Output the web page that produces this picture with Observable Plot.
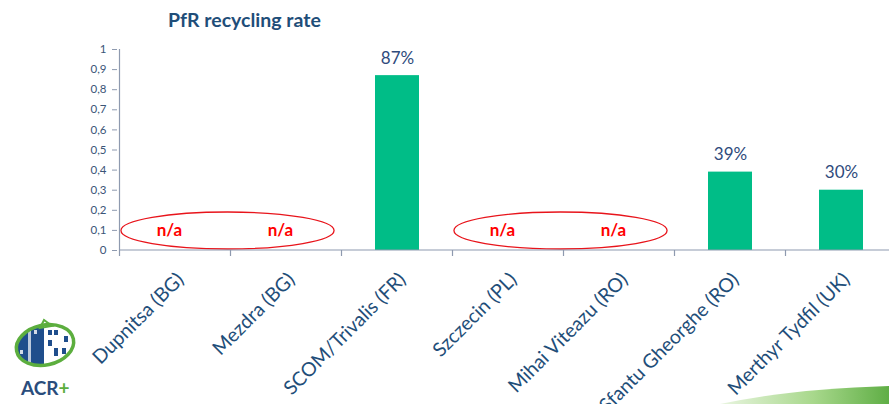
<!DOCTYPE html>
<html><head><meta charset="utf-8">
<script src="https://cdn.jsdelivr.net/npm/d3@7"></script>
<script src="https://cdn.jsdelivr.net/npm/@observablehq/plot@0.6"></script>
<style>
body{margin:0;background:#fff;font-family:Lato, "Open Sans", sans-serif;}
#wrap{position:relative;width:889px;height:404px;overflow:hidden;background:#fff;}
#title{height:36px;}
#title span{position:absolute;left:168px;top:9px;font-size:19.5px;font-weight:bold;color:#1f4e79;line-height:22px;}
#chart svg{overflow:visible;}
.deco{position:absolute;pointer-events:none;}
</style></head><body>
<div id="wrap">
  <div id="title"><span>PfR recycling rate</span></div>
  <div id="chart"></div>
  <svg class="deco" style="left:0;top:300px" width="95" height="104">
    <defs>
      <clipPath id="lc"><ellipse cx="45" cy="45" rx="28" ry="19" transform="rotate(-12 45 45)"/></clipPath>
    </defs>
    <g clip-path="url(#lc)">
      <rect x="10" y="15" width="70" height="60" fill="#fff"/>
      <rect x="14" y="20" width="30" height="56" fill="#1f4e8c"/>
      <rect x="28" y="24" width="3" height="40" fill="#fff" opacity="0.7"/>
      <rect x="20" y="50" width="3" height="4" fill="#fff" opacity="0.8"/>
      <rect x="34" y="30" width="3" height="4" fill="#fff" opacity="0.8"/>
      <rect x="48" y="30" width="4" height="5" fill="#1f4e8c"/>
      <rect x="54" y="30" width="4" height="5" fill="#1f4e8c"/>
      <rect x="64" y="36" width="4" height="6" fill="#1f4e8c"/>
      <rect x="48" y="40" width="4" height="6" fill="#1f4e8c"/>
      <rect x="54" y="48" width="4" height="8" fill="#1f4e8c"/>
      <rect x="62" y="48" width="4" height="6" fill="#1f4e8c"/>
    </g>
    <ellipse cx="45" cy="45" rx="29" ry="20" transform="rotate(-12 45 45)" fill="none" stroke="#5cae3e" stroke-width="3.5"/>
    <path d="M40 28 L44 20 L52 26 Z" fill="none" stroke="#5cae3e" stroke-width="2"/>
    <text x="21" y="95" font-family="Lato" font-weight="bold" font-size="19" fill="#2a4d7c">ACR<tspan fill="#5cae3e">+</tspan></text>
  </svg>
  <svg class="deco" style="left:700px;top:370px" width="189" height="34">
    <defs>
      <linearGradient id="sw" x1="0" x2="1" y1="0" y2="0">
        <stop offset="0" stop-color="#e9f5e0"/>
        <stop offset="0.55" stop-color="#a8d88c"/>
        <stop offset="1" stop-color="#5fae45"/>
      </linearGradient>
    </defs>
    <path d="M20 34 Q90 19 189 16 L189 34 Z" fill="url(#sw)"/>
  </svg>
</div>
<script>
const categories = ["Dupnitsa (BG)", "Mezdra (BG)", "SCOM/Trivalis (FR)", "Szczecin (PL)", "Mihai Viteazu (RO)", "Sfantu Gheorghe (RO)", "Merthyr Tydfil (UK)"];
const rates = [null, null, 0.87, null, null, 0.39, 0.30];
const yTicks = [0, 0.1, 0.2, 0.3, 0.4, 0.5, 0.6, 0.7, 0.8, 0.9, 1];
const naLabel = "n/a";
const naGroups = [["Dupnitsa (BG)", "Mezdra (BG)"], ["Szczecin (PL)", "Mihai Viteazu (RO)"]];

const rows = categories.map((c, i) => ({cat: c, value: rates[i]}));
const present = rows.filter(d => d.value != null);
const missing = rows.filter(d => d.value == null);

const axisColor = "#8e9aaf";

function bandInfo(x) {
  const bw = x.bandwidth ? x.bandwidth() : 0;
  const step = x.step ? x.step() : (x(categories[1]) - x(categories[0]));
  return {bw, step};
}

// axis lines + boundary ticks
function frameMark(index, scales, values, dims) {
  const x = scales.x, y = scales.y;
  const {bw, step} = bandInfo(x);
  const g = d3.create("svg:g").attr("stroke", axisColor).attr("stroke-width", 1.2);
  const y0 = y(0);
  const left = x(categories[0]) + bw / 2 - step / 2;
  g.append("line").attr("x1", left).attr("x2", dims.width + 20).attr("y1", y0).attr("y2", y0);
  g.append("line").attr("x1", left).attr("x2", left).attr("y1", y(1)).attr("y2", y0);
  categories.forEach(c => {
    const bx = x(c) + bw / 2 - step / 2;
    g.append("line").attr("x1", bx).attr("x2", bx).attr("y1", y0).attr("y2", y0 + 6);
  });
  return g.node();
}

function ellipseMark(index, scales) {
  const x = scales.x, y = scales.y;
  const {bw, step} = bandInfo(x);
  const g = d3.create("svg:g").attr("fill", "none").attr("stroke", "#e8141b").attr("stroke-width", 1.3);
  naGroups.forEach(([a, b]) => {
    const cx = (x(a) + x(b)) / 2 + bw / 2;
    g.append("ellipse")
      .attr("cx", cx - 3)
      .attr("cy", y(0.097))
      .attr("rx", step * 0.96)
      .attr("ry", Math.abs(y(0) - y(0.092)));
  });
  return g.node();
}

const chart = Plot.plot({
  width: 889,
  height: 368,
  marginTop: 13,
  marginBottom: 154,
  marginLeft: 117,
  marginRight: -10,
  style: {fontFamily: "Lato, 'Open Sans', sans-serif", background: "transparent"},
  x: {domain: categories, paddingInner: 0.6, paddingOuter: 0.3, label: null},
  y: {domain: [0, 1], label: null},
  marks: [
    Plot.barY(present, {x: "cat", y: "value", fill: "#00bd87"}),
    Plot.text(present, {x: "cat", y: "value", text: d => Math.round(d.value * 100) + "%", lineAnchor: "bottom", dy: -12, fontSize: 17, fill: "#2f4b7c"}),
    ellipseMark,
    Plot.text(missing, {x: "cat", y: 0.1, text: () => naLabel, dx: -6, fontSize: 17, fontWeight: "bold", fill: "#ff0000"}),
    Plot.axisY({ticks: yTicks, tickFormat: d => String(d).replace(".", ","), tickSize: 5, tickPadding: 6, fontSize: 11.5, stroke: axisColor, fill: "#3b5577", label: null}),
    Plot.axisX({tickSize: 0, tickRotate: -45, tickPadding: 18, dx: 5, dy: 8, fontSize: 19.5, fill: "#1f4e79", label: null}),
    frameMark
  ]
});
document.getElementById("chart").appendChild(chart);
</script>
</body></html>
